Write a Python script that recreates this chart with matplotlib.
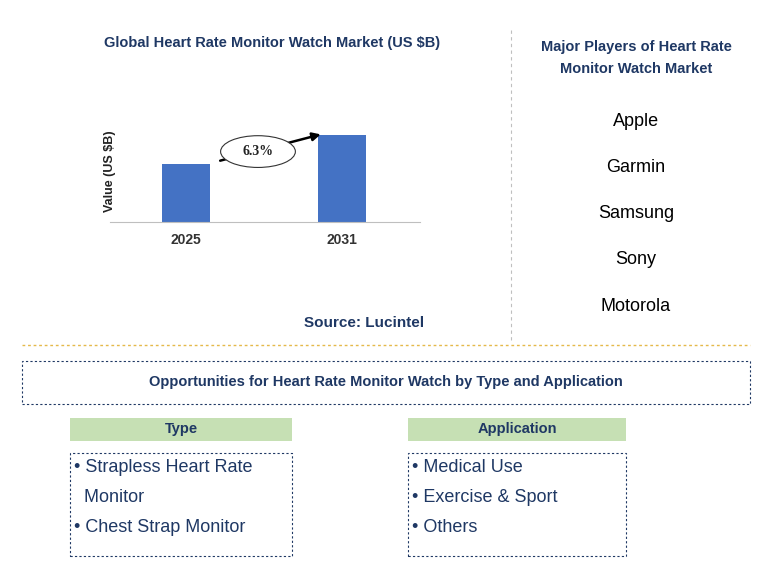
import matplotlib.pyplot as plt
from matplotlib.patches import Rectangle, Ellipse, FancyArrowPatch

W, H = 767, 581
years = ["2025", "2031"]
values = [1.0, 1.5]
cagr = "6.3%"
players = ["Apple", "Garmin", "Samsung", "Sony", "Motorola"]
types = ["• Strapless Heart Rate", "  Monitor", "• Chest Strap Monitor"]
applications = ["• Medical Use", "• Exercise & Sport", "• Others"]

navy = "#1F3864"
blue = "#4472C4"
green = "#C6E0B4"

fig = plt.figure(figsize=(W / 100, H / 100), dpi=100)


def fx(x):
    return x / W


def fy(y):
    return 1 - y / H


def txt(x, y, s, size=11, **kw):
    kw.setdefault("ha", "center")
    kw.setdefault("va", "center")
    kw.setdefault("color", navy)
    fig.text(fx(x), fy(y), s, fontsize=size, family="Liberation Sans", **kw)


def box(x0, y0, x1, y1, **kw):
    fig.add_artist(Rectangle((fx(x0), fy(y1)), fx(x1 - x0), (y1 - y0) / H,
                             transform=fig.transFigure, **kw))


# bar chart
ax = fig.add_axes([fx(110), fy(222), fx(310), (222 - 95) / H])
ax.bar([0, 1], values, width=0.31, color=blue)
ax.set_xlim(-0.49, 1.5)
ax.set_ylim(0, 2.2)
ax.set_xticks([0, 1], years)
ax.tick_params(axis="x", length=0, labelsize=10, labelcolor="#333333", pad=8)
for lab in ax.get_xticklabels():
    lab.set_fontweight("bold")
    lab.set_family("Liberation Sans")
ax.set_yticks([])
for s in ["top", "right", "left"]:
    ax.spines[s].set_visible(False)
ax.spines["bottom"].set_color("#BFBFBF")
ax.set_ylabel("Value (US $B)", fontsize=9, fontweight="bold", color="#222222",
              family="Liberation Sans")
ax.yaxis.set_label_coords(0.02, 0.4)

ax.add_patch(FancyArrowPatch((0.2, 1.05), (1.0 - 0.12, values[1] + 0.03),
                             arrowstyle="-|>", mutation_scale=12, lw=1.8, color="black"))
ax.add_patch(Ellipse((0.46, 1.22), 0.48, 0.55, facecolor="white", edgecolor="#333333", lw=0.8))
ax.text(0.46, 1.22, cagr, ha="center", va="center", fontsize=10, fontweight="bold",
        family="Liberation Serif", color="#222222")

txt(272, 43, "Global Heart Rate Monitor Watch Market (US $B)", 10.5, fontweight="bold")
txt(364, 323, "Source: Lucintel", 11, fontweight="bold")

# players
txt(636, 47, "Major Players of Heart Rate", 10.5, fontweight="bold")
txt(636, 69, "Monitor Watch Market", 10.5, fontweight="bold")
for i, p in enumerate(players):
    txt(636, 121 + i * 46.3, p, 13, color="black")

fig.add_artist(plt.Line2D([fx(511), fx(511)], [fy(30), fy(340)], transform=fig.transFigure,
                          color="#BFBFBF", lw=0.8, ls=(0, (3, 3))))
fig.add_artist(plt.Line2D([fx(22), fx(750)], [fy(345), fy(345)], transform=fig.transFigure,
                          color="#E5B94A", lw=1.0, ls=(0, (2, 2))))

# opportunities
box(22, 361, 750, 404, fill=False, edgecolor=navy, lw=0.8, ls=(0, (2, 2)))
txt(386, 382, "Opportunities for Heart Rate Monitor Watch by Type and Application", 10.5,
    fontweight="bold")

for x0, x1, title, items in [(70, 292, "Type", types), (408, 626, "Application", applications)]:
    box(x0, 418, x1, 441, facecolor=green, edgecolor="none")
    txt((x0 + x1) / 2, 429.5, title, 10.5, fontweight="bold")
    box(x0, 453, x1, 556, fill=False, edgecolor=navy, lw=0.8, ls=(0, (2, 2)))
    for i, it in enumerate(items):
        txt(x0 + 4, 467 + i * 30, it, 13, ha="left", color=navy)

fig.savefig("out.png", dpi=100)
